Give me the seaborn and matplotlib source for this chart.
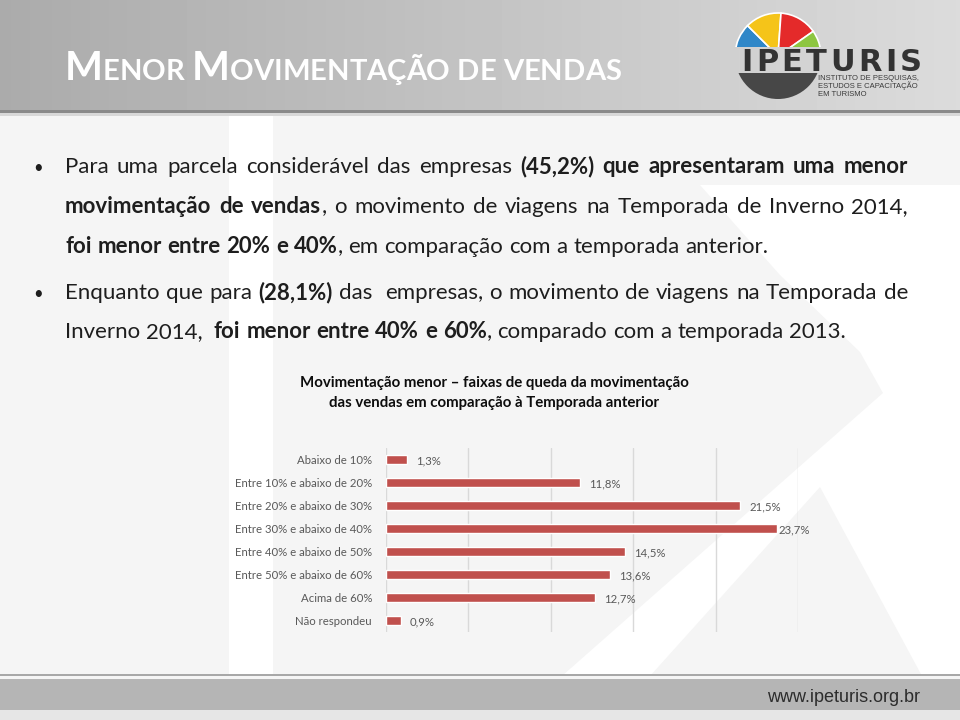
import numpy as np
import pandas as pd
import seaborn as sns
import matplotlib.pyplot as plt
from matplotlib.patches import Rectangle, Polygon, Wedge, Circle

# chart data
categories = ['Abaixo de 10%', 'Entre 10% e abaixo de 20%', 'Entre 20% e abaixo de 30%',
              'Entre 30% e abaixo de 40%', 'Entre 40% e abaixo de 50%',
              'Entre 50% e abaixo de 60%', 'Acima de 60%', 'Não respondeu']
values = [1.3, 11.8, 21.5, 23.7, 14.5, 13.6, 12.7, 0.9]
grid_ticks = [0, 5, 10, 15, 20, 25]

slide_title = 'Menor Movimentação de vendas'
chart_title = ['Movimentação menor – faixas de queda da movimentação',
               'das vendas em comparação à Temporada anterior']
# '*' toggles bold
bullet1 = ['Para uma parcela considerável das empresas *(45,2%) que apresentaram uma menor*',
           '*movimentação de vendas*, o movimento de viagens na Temporada de Inverno 2014,',
           '*foi menor entre 20% e 40%*, em comparação com a temporada anterior.']
bullet2 = ['Enquanto que para *(28,1%)* das  empresas, o movimento de viagens na Temporada de',
           'Inverno 2014,  *foi menor entre 40% e 60%*, comparado com a temporada 2013.']
logo_lines = ['INSTITUTO DE PESQUISAS,', 'ESTUDOS E CAPACITAÇÃO', 'EM TURISMO']
site = 'www.ipeturis.org.br'

sns.set_theme(style='white')
plt.rcParams['font.family'] = ['Lato', 'DejaVu Sans']

fig = plt.figure(figsize=(9.6, 7.2), dpi=100, facecolor='#f5f5f5')
bg = fig.add_axes([0, 0, 1, 1])
bg.axis('off')
rend = fig.canvas.get_renderer()


def text_w(t):
    return t.get_window_extent(renderer=rend).width


def space_w(size, weight='normal', family='Lato'):
    a = bg.text(0, 0, 'a a', fontsize=size, fontweight=weight, family=family)
    b = bg.text(0, 0, 'aa', fontsize=size, fontweight=weight, family=family)
    w = text_w(a) - text_w(b)
    a.remove(); b.remove()
    return w


def draw_line(x, y, line, size, right=None, color='#1e1e1e'):
    bold = False
    words = []
    for w in line.split(' '):
        segs = []
        for i, part in enumerate(w.split('*')):
            if i > 0:
                bold = not bold
            if part:
                segs.append((part, bold))
        words.append(segs)
    placed = []
    for segs in words:
        ts = []
        for s, b in segs:
            t = bg.text(0, y, s, fontsize=size, fontweight='bold' if b else 'normal',
                        color=color, va='baseline', ha='left')
            ts.append((t, text_w(t)))
        placed.append(ts)
    total = sum(w for ts in placed for _, w in ts)
    gap = space_w(size)
    if right is not None:
        gap = (right - x - total) / (len(words) - 1)
    cx = x
    for ts in placed:
        for t, w in ts:
            t.set_x(cx)
            cx += w
        cx += gap


# background watermark shapes
bg.add_patch(Rectangle((229, 113), 44, 562, color='white', lw=0))
bg.add_patch(Polygon([(700, 185), (780, 275), (860, 352), (883, 393), (562, 676),
                      (960, 676), (960, 185)], closed=True, color='white', lw=0))
bg.add_patch(Polygon([(820, 487), (922, 676), (650, 676)], closed=True, color='#f5f5f5', lw=0))

# header
grad = np.linspace(0.67, 0.86, 256)
bg.imshow(np.tile(grad, (2, 1)), extent=(0, 960, 110, 0), cmap='gray', vmin=0, vmax=1,
          aspect='auto', zorder=1)
bg.add_patch(Rectangle((0, 110), 960, 3, color='#8a8a8a', lw=0, zorder=2))
bg.add_patch(Rectangle((0, 113), 960, 3, color='#d8d8d8', lw=0, zorder=2))

# footer
bg.add_patch(Rectangle((0, 674), 960, 2, color='#a8a8a8', lw=0))
bg.add_patch(Rectangle((0, 679), 960, 31, color='#b5b5b5', lw=0))
bg.add_patch(Rectangle((0, 710), 960, 10, color='#e6e6e6', lw=0))
bg.text(920, 698, site, ha='right', va='center', fontsize=13, family='Liberation Sans',
        color='#2c2c2c')

bg.set_xlim(0, 960)
bg.set_ylim(720, 0)

# slide title in small caps
cx = 65
big, small = 29, 21
for word in slide_title.split(' '):
    for ch in word:
        t = bg.text(cx, 80, ch.upper(), fontsize=big if ch.isupper() else small,
                    fontweight='bold', color='white', va='baseline', zorder=3)
        cx += text_w(t)
    cx += space_w(small, 'bold')

# logo
lx, ly, lr = 778, 56, 43
top_clip = Rectangle((700, 0), 260, 47, transform=bg.transData)
for c, a1, a2 in [('#2f87c8', 135, 176), ('#f5c419', 86, 135), ('#e42a2a', 35, 86), ('#8dc640', 6, 35)]:
    w = Wedge((lx, ly), lr, -a2, -a1, facecolor=c, edgecolor='white', lw=1.2, zorder=3)
    bg.add_patch(w)
    w.set_clip_path(top_clip)
bottom_clip = Rectangle((700, 73), 260, 40, transform=bg.transData)
dark = Circle((lx, ly), lr, color='#474747', lw=0, zorder=3)
bg.add_patch(dark)
dark.set_clip_path(bottom_clip)

letters = []
for ch in 'IPETURIS':
    t = bg.text(0, 71, ch, fontsize=22, fontweight='bold', family='DejaVu Sans',
                color='#333333', va='baseline', zorder=4)
    letters.append((t, text_w(t)))
gap = (922 - 741 - sum(w for _, w in letters)) / (len(letters) - 1)
cx = 741
for t, w in letters:
    t.set_x(cx)
    cx += w + gap
for i, s in enumerate(logo_lines):
    bg.text(818, 78 + 8 * i, s, fontsize=5.5, family='Liberation Sans', color='#3a3a3a',
            va='center', zorder=4)

# bullets
base1 = [173, 213, 253]
base2 = [299, 338]
size = 16
bg.text(33, base1[0], '•', fontsize=12, color='#1e1e1e', va='baseline')
bg.text(33, base2[0], '•', fontsize=12, color='#1e1e1e', va='baseline')
draw_line(65, base1[0], bullet1[0], size, right=908)
draw_line(65, base1[1], bullet1[1], size, right=908)
draw_line(65, base1[2], bullet1[2], size)
draw_line(65, base2[0], bullet2[0], size, right=908)
draw_line(65, base2[1], bullet2[1], size)

# chart title
bg.text(494, 383, chart_title[0], ha='center', va='center', fontsize=10.8,
        fontweight='bold', color='#0d0d0d')
bg.text(494, 403, chart_title[1], ha='center', va='center', fontsize=10.8,
        fontweight='bold', color='#0d0d0d')

# bar chart
ax = fig.add_axes([386 / 960, 1 - 632 / 720, (798 - 386) / 960, (632 - 448) / 720])
df = pd.DataFrame({'faixa': categories, 'pct': values})
sns.barplot(data=df, y='faixa', x='pct', color='#c0504d', saturation=1, width=0.36, ax=ax)
ax.set_facecolor('none')
ax.set_xlim(0, 25)
ax.set_xticks(grid_ticks)
ax.set_xticklabels([])
ax.xaxis.grid(True, color='#d9d9d9', lw=1)
ax.set_axisbelow(True)
ax.set_xlabel('')
ax.set_ylabel('')
sns.despine(ax=ax, left=True, bottom=True)
ax.tick_params(length=0)
ax.tick_params(axis='y', labelsize=8.2, labelcolor='#595959', pad=10)

for i, v in enumerate(values):
    off = 2 if v == max(values) else 9
    ax.annotate(f'{v:.1f}%'.replace('.', ','), (v, i), xytext=(off, -1),
                textcoords='offset pixels', va='center', fontsize=8.2, color='#595959')

fig.savefig('out.png', dpi=100, facecolor=fig.get_facecolor())
